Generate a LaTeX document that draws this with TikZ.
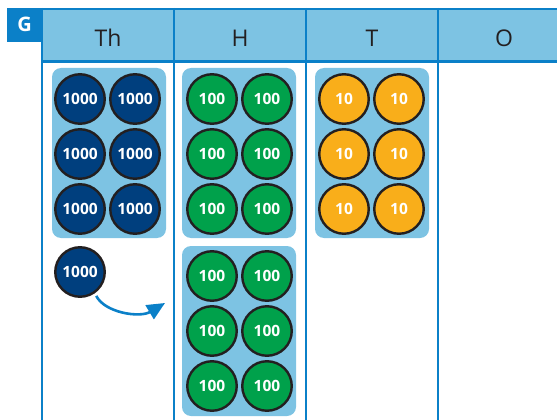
\documentclass[tikz,border=0pt]{standalone}
\usepackage{fontspec}
\setmainfont{Open Sans}
\usepackage{tikz}
\usetikzlibrary{arrows.meta}

\definecolor{lightblue}{HTML}{7DC3E3}
\definecolor{lineblue}{HTML}{0B80C8}
\definecolor{navy}{HTML}{003F7E}
\definecolor{countgreen}{HTML}{00A14B}
\definecolor{countorange}{HTML}{F9AE1A}
\definecolor{rim}{HTML}{231F20}

\begin{document}
\begin{tikzpicture}[x=1pt,y=-1pt,
  counter/.style={circle,draw=rim,line width=2.4pt,minimum size=49.5pt,inner sep=0pt,
    text=white,font=\bfseries\fontsize{15.5}{15.5}\selectfont},
  thou/.style={counter,fill=navy},
  hund/.style={counter,fill=countgreen},
  ten/.style={counter,fill=countorange},
  panel/.style={fill=lightblue,rounded corners=9pt},
  head/.style={text=rim,font=\fontsize{23}{23}\selectfont}]
\useasboundingbox (0,0) rectangle (557,420);
% header row
\fill[lightblue] (42,8) rectangle (557,62);
\fill[lineblue] (7,8) rectangle (42,42);
\node[text=white,font=\bfseries\fontsize{20}{20}\selectfont] (g) at (24.5,24) {G};
\draw[lineblue,line width=2pt] (42,9) -- (557,9);
\draw[lineblue,line width=3pt] (42,62) -- (557,62);
\foreach \x in {42,174,306,438}
  \draw[lineblue,line width=2.5pt] (\x,8) -- (\x,420);
\node[head] (th) at (108,38) {Th};
\node[head] (h) at (240,38) {H};
\node[head] (t) at (372,38) {T};
\node[head] (o) at (504,38) {O};
% counter panels
\fill[panel] (52,68) rectangle (166,238);
\fill[panel] (182,68) rectangle (296,238);
\fill[panel] (182,246) rectangle (296,416);
\fill[panel] (315,68) rectangle (429,238);
% counters
\foreach \y [count=\r] in {99,154,209} {
  \node[thou] (th-\r-1) at (80,\y) {1000};
  \node[thou] (th-\r-2) at (135,\y) {1000};
  \node[hund] (h-\r-1) at (212,\y) {100};
  \node[hund] (h-\r-2) at (267,\y) {100};
  \node[ten] (t-\r-1) at (344,\y) {10};
  \node[ten] (t-\r-2) at (399,\y) {10};
}
\foreach \y [count=\r from 4] in {276,331,386} {
  \node[hund] (h-\r-1) at (212,\y) {100};
  \node[hund] (h-\r-2) at (267,\y) {100};
}
\node[thou] (single) at (80,272) {1000};
% exchange arrow
\coordinate (arrowend) at (165,303);
\draw[lineblue,line width=2.6pt,-{Triangle[length=18pt,width=16pt]},shorten <=3pt]
  (single.-55) .. controls (105,313) and (140,318) .. (arrowend);
\end{tikzpicture}
\end{document}
